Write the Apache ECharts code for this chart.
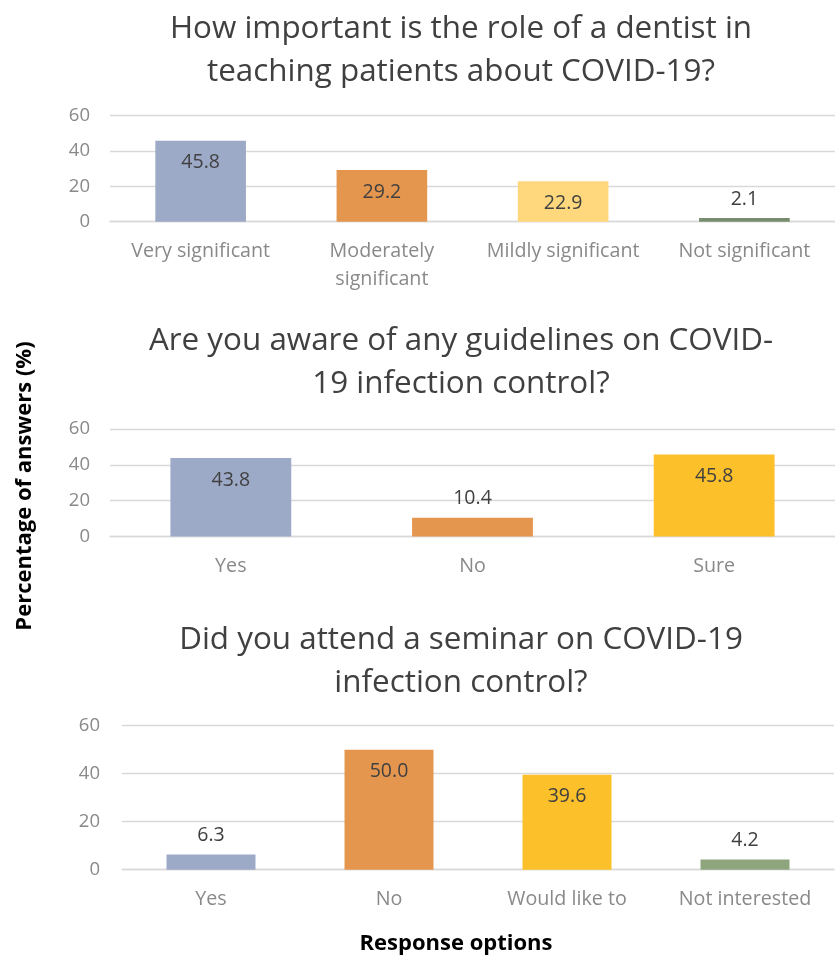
<!DOCTYPE html>
<html>
<head>
<meta charset="utf-8">
<script src="https://cdn.jsdelivr.net/npm/echarts@6/dist/echarts.min.js"></script>
<style>
html,body{margin:0;padding:0;background:#fff;}
#c{width:835px;height:958px;}
</style>
</head>
<body>
<div id="c"></div>
<script>
// ---- Data ----
const title1 = "How important is the role of a dentist in\nteaching patients about COVID-19?";
const cats1 = ["Very significant", "Moderately\nsignificant", "Mildly significant", "Not significant"];
const vals1 = [45.8, 29.2, 22.9, 2.1];

const title2 = "Are you aware of any guidelines on COVID-\n19 infection control?";
const cats2 = ["Yes", "No", "Sure"];
const vals2 = [43.8, 10.4, 45.8];

const title3 = "Did you attend a seminar on COVID-19\ninfection control?";
const cats3 = ["Yes", "No", "Would like to", "Not interested"];
const vals3 = [6.3, 50.0, 39.6, 4.2];

const yTicks = [0, 20, 40, 60];
const yTitle = "Percentage of answers (%)";
const xTitle = "Response options";

// ---- Styles ----
const colors1 = ["#9CA9C7", "#E5964E", "#FFD87D", "#788C6E"];
const colors2 = ["#9CA9C7", "#E5964E", "#FBC02A"];
const colors3 = ["#9CA9C7", "#E5964E", "#FBC02A", "#8EA57E"];
const FONT = "Open Sans";
const gridColor = "#D9D9D9";
const VAL_FS = 19.5;

function mkData(vals, colors) {
  return vals.map((v, i) => {
    const small = v < 15;
    return {
      value: v,
      itemStyle: { color: colors[i] },
      label: small
        ? { position: "top", distance: 9 }
        : { position: "insideTop", distance: 12 }
    };
  });
}

const grids = [
  { left: 110, top: 115.7, width: 736, height: 106 },
  { left: 110, top: 429, width: 736, height: 107.5 },
  { left: 122, top: 725.7, width: 712, height: 144 }
];
const catsAll = [cats1, cats2, cats3];
const valsAll = [vals1, vals2, vals3];
const colsAll = [colors1, colors2, colors3];

const xAxes = catsAll.map((c, i) => ({
  type: "category", gridIndex: i, data: c,
  axisLine: { show: true, lineStyle: { color: gridColor, width: 1.3 } },
  axisTick: { show: false },
  axisLabel: { color: "#898989", fontFamily: FONT, fontSize: 19.7, lineHeight: 28, margin: 16, interval: 0 }
}));
const yAxes = grids.map((g, i) => ({
  type: "value", gridIndex: i, min: yTicks[0], max: yTicks[yTicks.length - 1], interval: 20,
  axisLine: { show: false }, axisTick: { show: false },
  splitLine: { lineStyle: { color: gridColor, width: 1.3 } },
  axisLabel: { color: "#898989", fontFamily: FONT, fontSize: 18.5, margin: i === 2 ? 22 : 20 }
}));
const series = valsAll.map((v, i) => ({
  type: "bar", xAxisIndex: i, yAxisIndex: i, barWidth: "50%",
  data: mkData(v, colsAll[i]),
  label: { show: true, color: "#404040", fontFamily: FONT, fontSize: VAL_FS,
    formatter: p => p.value.toFixed(1) }
}));

const titleStyle = (txt) => ({
  text: txt, fill: "#404040", font: "31.4px '" + FONT + "'", textAlign: "center",
  textVerticalAlign: "middle", lineHeight: 43
});

const chart = echarts.init(document.getElementById("c"));
chart.setOption({
  backgroundColor: "#fff",
  animation: false,
  grid: grids,
  xAxis: xAxes,
  yAxis: yAxes,
  series: series,
  graphic: [
    { type: "text", x: 461, y: 51, style: titleStyle(title1) },
    { type: "text", x: 461, y: 363, style: titleStyle(title2) },
    { type: "text", x: 461, y: 662, style: titleStyle(title3) },
    { type: "text", x: 25, y: 486, rotation: Math.PI / 2,
      style: { text: yTitle, fill: "#000", font: "bold 22px '" + FONT + "'", textAlign: "center", textVerticalAlign: "middle" } },
    { type: "text", x: 456, y: 944,
      style: { text: xTitle, fill: "#000", font: "bold 22px '" + FONT + "'", textAlign: "center", textVerticalAlign: "middle" } }
  ]
});
</script>
</body>
</html>
